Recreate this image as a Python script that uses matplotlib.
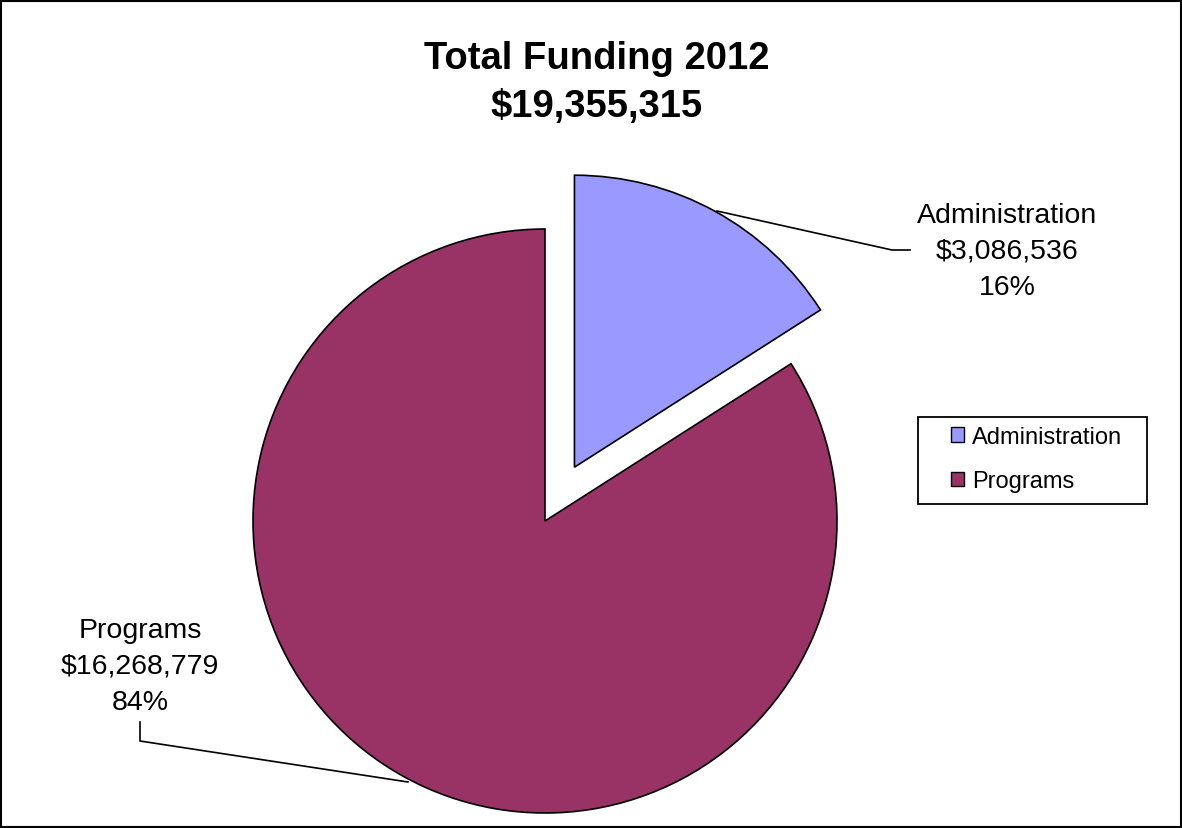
import matplotlib.pyplot as plt
from matplotlib.patches import Rectangle

categories = ['Administration', 'Programs']
amounts = [3086536, 16268779]
colors = ['#9999FF', '#993366']
total = sum(amounts)

plt.rcParams['font.family'] = ['Liberation Sans', 'DejaVu Sans']

W, H = 1182, 829
fig = plt.figure(figsize=(W / 100, H / 100), dpi=100)
ax = fig.add_axes([0, 0, 1, 1])

def fy(y):
    # screen-style y (from top) to data y
    return H - y

R = 292
wedges, _ = ax.pie(amounts, explode=[0.21 * R, 0], colors=colors, startangle=90,
                   counterclock=False, center=(545, fy(522)), radius=R,
                   wedgeprops=dict(edgecolor='black', linewidth=1.2))

ax.set_xlim(0, W)
ax.set_ylim(0, H)
ax.set_aspect('equal')
ax.axis('off')

# border round the whole chart
fig.patches.append(Rectangle((0.001, 0.001), 0.998, 0.997, transform=fig.transFigure,
                             fill=False, edgecolor='black', linewidth=1.5))

# title
ax.text(597, fy(83), 'Total Funding 2012\n$' + f'{total:,}', ha='center', va='center',
        fontsize=27.5, fontweight='bold', linespacing=1.4)

# data labels with leader lines
for name, amt, (tx, ty) in zip(categories, amounts, [(1007, 252), (140, 667)]):
    ax.text(tx, fy(ty), f'{name}\n${amt:,}\n{amt / total:.0%}', ha='center', va='center',
            fontsize=20.5, linespacing=1.48)

ax.plot([717, 892, 910], [fy(212), fy(251), fy(251)], color='black', lw=1.2)
ax.plot([408, 140, 140], [fy(783), fy(742), fy(723)], color='black', lw=1.2)

# legend, with its own frame
leg = ax.legend(wedges, categories, loc='center', bbox_to_anchor=(1036.5 / W, 1 - 460 / H),
                fontsize=17, frameon=False,
                handlelength=0.55, handleheight=0.55, handletextpad=0.35, labelspacing=0.95,
                borderpad=0, borderaxespad=0)
for h in leg.legend_handles:
    h.set_edgecolor('black')
    h.set_linewidth(1.0)
ax.add_patch(Rectangle((918, fy(505)), 229, 87, fill=False, edgecolor='black', linewidth=1.3))

fig.savefig('out.png', dpi=100)
